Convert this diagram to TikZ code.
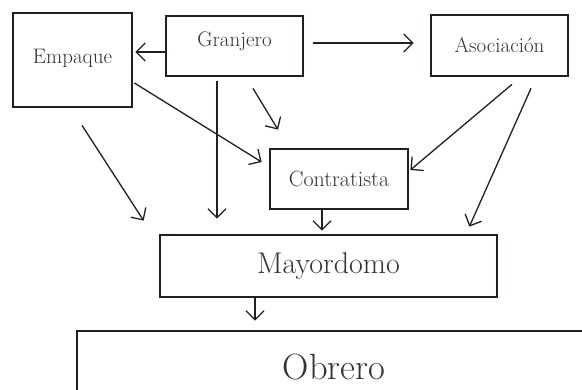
\documentclass[tikz,border=0pt]{standalone}
\usetikzlibrary{arrows.meta}
\definecolor{ink}{HTML}{231F20}
\definecolor{txt}{HTML}{333333}
\begin{document}
\begin{tikzpicture}[x=1pt,y=-1pt,
  box/.style={draw=ink,line width=2.7pt,rectangle,inner sep=0pt,anchor=center,text=txt},
  small/.style={font=\fontsize{21}{25}\selectfont},
  arr/.style={draw=ink,line width=1.3pt,-{Straight Barb[length=9pt,width=18pt,line width=1.3pt]}}]
\clip (0,0) rectangle (582,389);
\fill[white] (0,0) rectangle (582,389);
% boxes
\node[box,small,minimum width=119pt,minimum height=94pt,text depth=8pt] (emp) at (72.5,60) {Empaque};
\node[box,small,minimum width=137pt,minimum height=60pt,text depth=14pt] (gran) at (234.5,46) {Granjero};
\node[box,small,minimum width=137pt,minimum height=61pt] (asoc) at (499.5,45.5) {Asociación};
\node[box,font=\fontsize{22}{26}\selectfont,minimum width=138pt,minimum height=60pt] (con) at (339,179) {Contratista};
\node[box,font=\fontsize{30}{34}\selectfont,minimum width=337pt,minimum height=62pt] (may) at (328.5,266) {Mayordomo};
\node[box,font=\fontsize{36.5}{40}\selectfont,minimum width=514pt,minimum height=72pt] (obr) at (334,367) {Obrero};
% connectors
\draw[arr] ([yshift=-6pt]gran.west) -- ([xshift=2pt,yshift=8pt]emp.east);
\draw[arr] ([xshift=9pt,yshift=3pt]gran.east) -- ([xshift=-16pt,yshift=2.5pt]asoc.west);
\draw[arr] ([xshift=-17.5pt,yshift=-4pt]gran.south) -- ([xshift=-111.5pt,yshift=15pt]may.north);
\draw[arr] ([xshift=18.5pt,yshift=-11pt]gran.south) -- ([xshift=-61pt,yshift=18pt]con.north);
\draw[arr] ([xshift=1pt,yshift=-23pt]emp.east) -- ([xshift=-7pt,yshift=17pt]con.west);
\draw[arr] ([xshift=9.5pt,yshift=-17pt]emp.south) -- ([xshift=-15pt,yshift=13pt]may.north west);
\draw[arr] ([xshift=12.5pt,yshift=-7pt]asoc.south) -- ([xshift=1pt,yshift=9pt]con.east);
\draw[arr] ([xshift=31.5pt,yshift=-11pt]asoc.south) -- ([xshift=-29pt,yshift=7pt]may.north east);
\draw[arr] ([xshift=-17pt]con.south) -- ([xshift=-6.5pt,yshift=3pt]may.north);
\draw[arr] ([xshift=-73.5pt]may.south) -- ([xshift=-79pt,yshift=9pt]obr.north);
\end{tikzpicture}
\end{document}
